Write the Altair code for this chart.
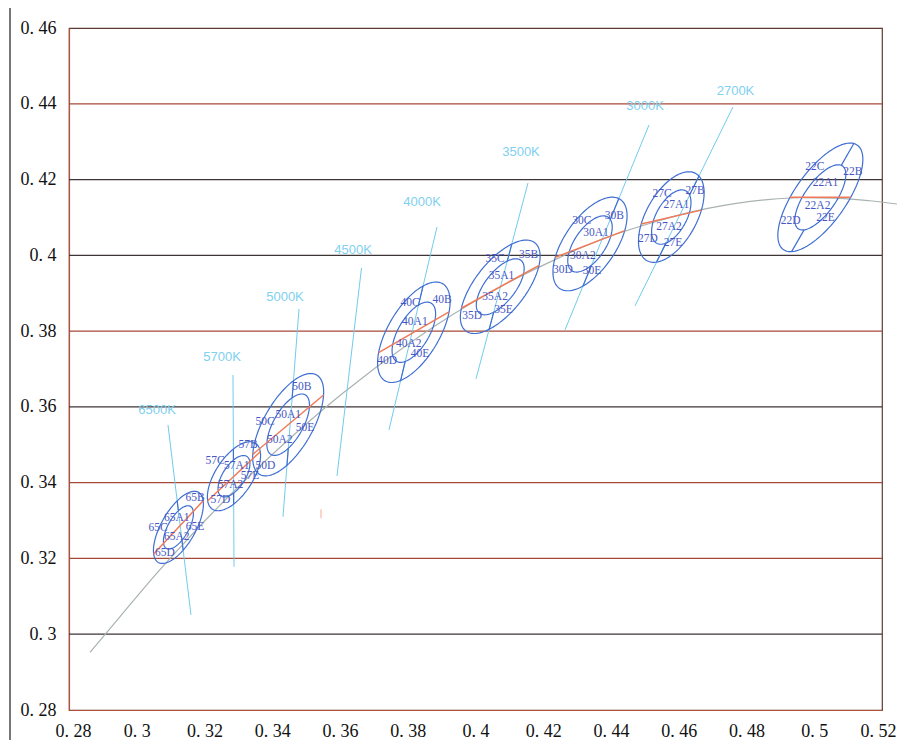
import math
import altair as alt
import pandas as pd

# ---------------- axes / grid ----------------
x_ticks = [0.28, 0.30, 0.32, 0.34, 0.36, 0.38, 0.40, 0.42, 0.44, 0.46, 0.48, 0.50, 0.52]
y_ticks = [0.28, 0.30, 0.32, 0.34, 0.36, 0.38, 0.40, 0.42, 0.44, 0.46]
grid_red = [0.32, 0.34, 0.38, 0.44]
grid_dark = [0.30, 0.36, 0.40, 0.42]

# ---------------- Planckian locus (grey curve) ----------------
locus_x = [0.2862, 0.2952, 0.3064, 0.3135, 0.3221, 0.3325, 0.3451, 0.3608, 0.3805, 0.4053,
           0.4238, 0.4369, 0.4521, 0.4599, 0.4770, 0.4862, 0.4958, 0.5056, 0.5163, 0.5266]
locus_y = [0.2952, 0.3048, 0.3166, 0.3236, 0.3318, 0.3411, 0.3516, 0.3636, 0.3768, 0.3907,
           0.3990, 0.4041, 0.4086, 0.4106, 0.4137, 0.4147, 0.4152, 0.4151, 0.4144, 0.4133]

# ---------------- bins (ellipses) ----------------
bin_codes = ["65", "57", "50", "40", "35", "30", "27", "22"]
center_x = [0.3123, 0.3287, 0.3447, 0.3818, 0.4073, 0.4338, 0.4578, 0.5018]
center_y = [0.3282, 0.3417, 0.3553, 0.3797, 0.3917, 0.4030, 0.4101, 0.4153]
semi_major = [0.0110, 0.0108, 0.0156, 0.0154, 0.0155, 0.0148, 0.0136, 0.0176]
semi_minor = [0.0049, 0.0053, 0.0070, 0.0073, 0.0071, 0.0073, 0.0072, 0.0073]
tilt_deg = [56, 52, 56, 54.7, 47, 50.7, 55.8, 50.4]
inner_scale = 0.6
band_slope = [0.958, 0.833, 0.750, 0.516, 0.495, 0.343, 0.206, 0.0]

# isotherm lines (two points each); the 2200K one is only drawn inside its ellipse
iso_names = ["6500K", "5700K", "5000K", "4500K", "4000K", "3500K", "3000K", "2700K", "2200K"]
iso_x1 = [0.30922, 0.32841, 0.34790, 0.36635, 0.38864, 0.41550, 0.45122, 0.47601, 0.51144]
iso_y1 = [0.35525, 0.36844, 0.38586, 0.39667, 0.40749, 0.41910, 0.43441, 0.43916, 0.42913]
iso_x2 = [0.31601, 0.32871, 0.34317, 0.35911, 0.37446, 0.40015, 0.42642, 0.44709, 0.49343]
iso_y2 = [0.30512, 0.31778, 0.33098, 0.34179, 0.35393, 0.36739, 0.38032, 0.38665, 0.40116]
iso_shown = [True, True, True, True, True, True, True, True, False]
iso_label_x = [0.30598, 0.32517, 0.34376, 0.36384, 0.38421, 0.41343, 0.45004, 0.47675]
iso_label_y = [0.35921, 0.37319, 0.38902, 0.40142, 0.41409, 0.42728, 0.43942, 0.44338]
bin_iso = ["6500K", "5700K", "5000K", "4000K", "3500K", "3000K", "2700K", "2200K"]

# sub-bin labels, order C, B, A1, A2, D, E
sub_names = ["C", "B", "A1", "A2", "D", "E"]
sub_x = {
    "65": [0.3063, 0.3172, 0.3118, 0.3118, 0.3083, 0.3172],
    "57": [0.3231, 0.3329, 0.3295, 0.3277, 0.3247, 0.3334],
    "50": [0.3379, 0.3487, 0.3447, 0.3422, 0.3380, 0.3497],
    "40": [0.3807, 0.3901, 0.3821, 0.3803, 0.3739, 0.3836],
    "35": [0.4058, 0.4157, 0.4077, 0.4058, 0.3990, 0.4083],
    "30": [0.4314, 0.4410, 0.4356, 0.4317, 0.4258, 0.4344],
    "27": [0.4551, 0.4648, 0.4593, 0.4571, 0.4509, 0.4583],
    "22": [0.5002, 0.5114, 0.5033, 0.5010, 0.4930, 0.5033],
}
sub_y = {
    "65": [0.3281, 0.3360, 0.3307, 0.3257, 0.3215, 0.3283],
    "57": [0.3458, 0.3500, 0.3444, 0.3393, 0.3355, 0.3418],
    "50": [0.3560, 0.3652, 0.3579, 0.3512, 0.3443, 0.3544],
    "40": [0.3874, 0.3882, 0.3824, 0.3767, 0.3721, 0.3739],
    "35": [0.3991, 0.4002, 0.3946, 0.3889, 0.3839, 0.3857],
    "30": [0.4091, 0.4104, 0.4060, 0.3998, 0.3962, 0.3958],
    "27": [0.4162, 0.4170, 0.4133, 0.4074, 0.4042, 0.4033],
    "22": [0.4233, 0.4220, 0.4191, 0.4129, 0.4091, 0.4099],
}

stray_x = [0.3544]
stray_y = [0.3318]

# ---------------- geometry helpers ----------------
def ell_frame(i):
    th = math.radians(tilt_deg[i])
    return math.cos(th), math.sin(th)


def crossings(i, px, py, dx, dy, k):
    ct, st = ell_frame(i)
    a, b = k * semi_major[i], k * semi_minor[i]
    rx, ry = px - center_x[i], py - center_y[i]
    ux = (rx * ct + ry * st) / a
    uy = (-rx * st + ry * ct) / b
    vx = (dx * ct + dy * st) / a
    vy = (-dx * st + dy * ct) / b
    A = vx * vx + vy * vy
    B = 2 * (ux * vx + uy * vy)
    C = ux * ux + uy * uy - 1
    D = math.sqrt(max(B * B - 4 * A * C, 0.0))
    return sorted([(-B - D) / (2 * A), (-B + D) / (2 * A)])


N = 120
ell_rows = []
for i, code in enumerate(bin_codes):
    ct, st = ell_frame(i)
    for ring, k in (("outer", 1.0), ("inner", inner_scale)):
        for j in range(N + 1):
            t = 2 * math.pi * j / N
            ea = k * semi_major[i] * math.cos(t)
            eb = k * semi_minor[i] * math.sin(t)
            ell_rows.append(dict(key=f"{code}-{ring}", o=j,
                                 x=center_x[i] + ea * ct - eb * st,
                                 y=center_y[i] + ea * st + eb * ct))
ell_df = pd.DataFrame(ell_rows)

div_rows, band_rows = [], []
for i, code in enumerate(bin_codes):
    m = iso_names.index(bin_iso[i])
    px, py = iso_x1[m], iso_y1[m]
    dx, dy = iso_x2[m] - px, iso_y2[m] - py
    s1, s2 = crossings(i, px, py, dx, dy, 1.0)
    r1, r2 = crossings(i, px, py, dx, dy, inner_scale)
    for sa, sb in ((s1, r1), (r2, s2)):
        div_rows.append(dict(x=px + sa * dx, y=py + sa * dy, x2=px + sb * dx, y2=py + sb * dy))
    cx, cy = center_x[i], center_y[i]
    q1, q2 = crossings(i, cx, cy, 1.0, band_slope[i], 1.0)
    band_rows.append(dict(x=cx + q1, y=cy + q1 * band_slope[i],
                          x2=cx + q2, y2=cy + q2 * band_slope[i]))
div_df = pd.DataFrame(div_rows)
band_df = pd.DataFrame(band_rows)

iso_df = pd.DataFrame([dict(x=iso_x1[m], y=iso_y1[m], x2=iso_x2[m], y2=iso_y2[m])
                       for m in range(len(iso_names)) if iso_shown[m]])
iso_lab_df = pd.DataFrame(dict(x=iso_label_x, y=iso_label_y, t=iso_names[:len(iso_label_x)]))

lab_rows = []
for code in bin_codes:
    for k, s in enumerate(sub_names):
        lab_rows.append(dict(x=sub_x[code][k], y=sub_y[code][k], t=code + s))
lab_df = pd.DataFrame(lab_rows)

locus_df = pd.DataFrame(dict(x=locus_x, y=locus_y, o=list(range(len(locus_x)))))
red_df = pd.DataFrame(dict(y=grid_red))
dark_df = pd.DataFrame(dict(y=grid_dark))
stray_df = pd.DataFrame(dict(x=stray_x, y=stray_y))

# ---------------- encodings ----------------
xscale = alt.Scale(domain=[0.28, 0.52], nice=False, zero=False)
yscale = alt.Scale(domain=[0.28, 0.46], nice=False, zero=False)
lab_expr = "replace(format(datum.value, '.2~f'), '.', '. ')"
xaxis = alt.Axis(values=x_ticks, labelExpr=lab_expr, title=None, grid=False, ticks=False,
                 labelFlush=True, labelFlushOffset=14, labelOverlap=False, labelPadding=12)
yaxis = alt.Axis(values=y_ticks, labelExpr=lab_expr, title=None, grid=False, ticks=False,
                 labelFlush=False, labelOverlap=False, labelPadding=13)


def X(f="x"):
    return alt.X(f + ":Q", scale=xscale, axis=xaxis)


def Y(f="y"):
    return alt.Y(f + ":Q", scale=yscale, axis=yaxis)


BLUE = "#3f6fd2"
LABEL_BLUE = "#4657c4"
CYAN = "#72cbec"
ORANGE = "#f07a58"

frame_left = alt.Chart(pd.DataFrame({"d": [0]})).mark_rule(color="#4a4a4a", strokeWidth=1.5).encode(
    x=alt.value(-59), y=alt.value(-30), y2=alt.value(760))

grid_r = alt.Chart(red_df).mark_rule(color="#a64a38", strokeWidth=1.3).encode(y=Y())
grid_d = alt.Chart(dark_df).mark_rule(color="#3d3535", strokeWidth=1.3).encode(y=Y())

locus = alt.Chart(locus_df).mark_line(color="#a9b2b2", strokeWidth=1.2, interpolate="monotone").encode(
    x=X(), y=Y(), order="o:Q")

iso = alt.Chart(iso_df).mark_rule(color=CYAN, strokeWidth=1).encode(x=X(), y=Y(), x2="x2", y2="y2")

ells = alt.Chart(ell_df).mark_line(color=BLUE, strokeWidth=1.2).encode(
    x=X(), y=Y(), detail="key:N", order="o:Q")

divs = alt.Chart(div_df).mark_rule(color=BLUE, strokeWidth=1.2).encode(x=X(), y=Y(), x2="x2", y2="y2")

bands = alt.Chart(band_df).mark_rule(color=ORANGE, strokeWidth=1.5).encode(x=X(), y=Y(), x2="x2", y2="y2")

labels = alt.Chart(lab_df).mark_text(font="Liberation Serif", fontSize=11.5, color=LABEL_BLUE,
                                     align="center", baseline="middle").encode(x=X(), y=Y(), text="t:N")

iso_labels = alt.Chart(iso_lab_df).mark_text(font="Liberation Sans", fontSize=13, color="#80d0ef",
                                             align="center", baseline="middle").encode(x=X(), y=Y(), text="t:N")

stray = alt.Chart(stray_df).mark_tick(color="#f39a86", orient="vertical", size=9, thickness=1.2).encode(
    x=X(), y=Y())

chart = alt.layer(frame_left, grid_r, grid_d, locus, iso, ells, divs, bands, labels, iso_labels, stray).properties(
    width=813, height=682,
    padding={"left": 61, "top": 20, "right": 15, "bottom": 30},
    autosize=alt.AutoSizeParams(type="none"),
    background="white",
).configure_view(stroke="#5b3a30", strokeWidth=1.2).configure_axis(
    domainColor="#b4503c", domainWidth=1.2,
    labelFont="Liberation Serif", labelFontSize=18, labelColor="#111111",
)

chart.save("out.html", embed_options={"renderer": "svg", "actions": False})
